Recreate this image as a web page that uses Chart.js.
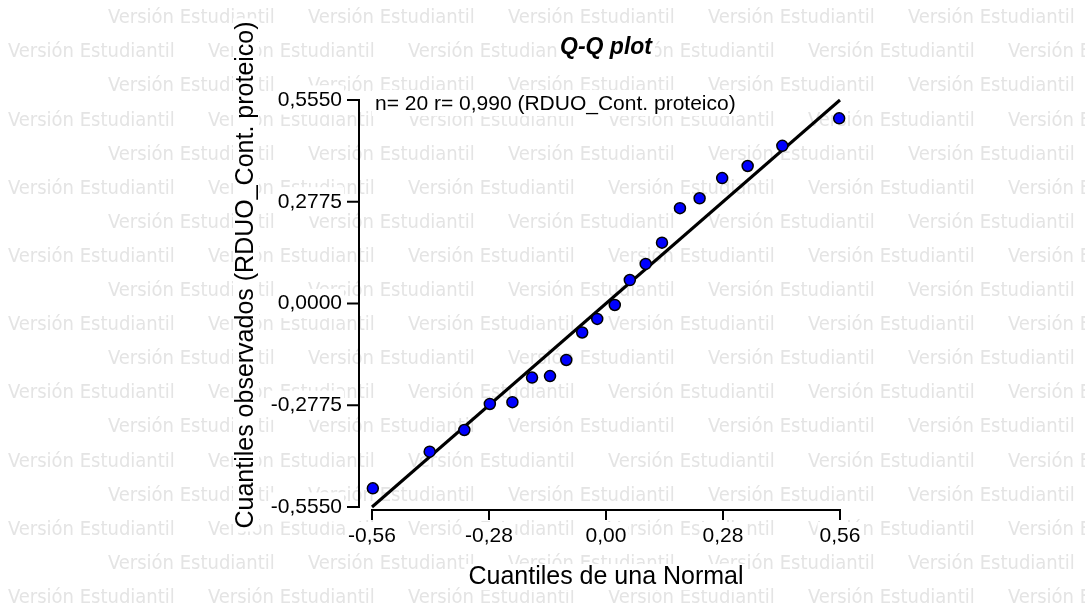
<!DOCTYPE html>
<html>
<head>
<meta charset="utf-8">
<script src="https://cdn.jsdelivr.net/npm/chart.js@4.4.1/dist/chart.umd.min.js"></script>
<style>
html, body { margin: 0; padding: 0; background: #fff; }
canvas { display: block; }
</style>
</head>
<body>
<canvas id="qq" width="1085" height="608"></canvas>
<script>
// datos
var cuantilesNormal = [-0.558, -0.422, -0.339, -0.278, -0.224, -0.177, -0.134, -0.095, -0.057, -0.021,
                        0.021,  0.057,  0.095,  0.134,  0.177,  0.224,  0.278,  0.339,  0.422,  0.558];
var cuantilesObs = [-0.504, -0.404, -0.345, -0.274, -0.269, -0.202, -0.198, -0.154, -0.079, -0.042,
                    -0.004,  0.064,  0.108,  0.166,  0.260,  0.287,  0.342,  0.375,  0.430,  0.505];
var rectaX = [-0.56, 0.56];
var rectaY = [-0.555, 0.555];
var ticksX = [-0.56, -0.28, 0, 0.28, 0.56];
var ticksY = [-0.555, -0.2775, 0, 0.2775, 0.555];

var titulo = 'Q-Q plot';
var leyenda = 'n= 20 r= 0,990 (RDUO_Cont. proteico)';
var tituloX = 'Cuantiles de una Normal';
var tituloY = 'Cuantiles observados (RDUO_Cont. proteico)';
var marca = 'Versión Estudiantil';

var fuente = '"Liberation Sans", Arial, sans-serif';

function coma(v, d) {
    return v.toFixed(d).replace('.', ',');
}

// texto con fondo blanco
function textoCaja(ctx, txt, x, y, align) {
    var w = ctx.measureText(txt).width;
    var x0 = align == 'center' ? x - w / 2 : x;
    ctx.fillStyle = '#fff';
    ctx.fillRect(x0 - 3, y - 20, w + 6, 26);
    ctx.fillStyle = '#000';
    ctx.textAlign = align;
    ctx.fillText(txt, x, y);
}

var fondo = {
    id: 'fondo',
    beforeDraw(chart) {
        var ctx = chart.ctx;
        ctx.save();
        ctx.fillStyle = '#fff';
        ctx.fillRect(0, 0, chart.width, chart.height);
        ctx.font = '20px "DejaVu Sans Condensed", sans-serif';
        ctx.fillStyle = '#e4e4e4';
        ctx.textBaseline = 'middle';
        for (var k = 0; k < 18; k++) {
            var yy = 18 + k * 34.1;
            var x0 = (k % 2 == 0) ? 108 : 8;
            for (var xx = x0; xx < chart.width; xx += 200) {
                ctx.fillText(marca, xx, yy);
            }
        }
        ctx.restore();
    }
};

var ejes = {
    id: 'ejes',
    beforeDatasetsDraw(chart) {
        var ctx = chart.ctx, a = chart.chartArea;
        var sx = chart.scales.x, sy = chart.scales.y;
        ctx.save();
        ctx.strokeStyle = '#000';
        ctx.lineWidth = 2;
        ctx.lineCap = 'square';
        ctx.beginPath();
        var ex = a.left - 13;
        ctx.moveTo(ex, sy.getPixelForValue(0.555));
        ctx.lineTo(ex, sy.getPixelForValue(-0.555));
        ticksY.forEach(function (v) {
            var p = sy.getPixelForValue(v);
            ctx.moveTo(ex - 11, p);
            ctx.lineTo(ex, p);
        });
        var ey = a.bottom + 3;
        ctx.moveTo(sx.getPixelForValue(-0.56), ey);
        ctx.lineTo(sx.getPixelForValue(0.56), ey);
        ticksX.forEach(function (v) {
            var p = sx.getPixelForValue(v);
            ctx.moveTo(p, ey);
            ctx.lineTo(p, ey + 9);
        });
        ctx.stroke();

        ctx.textBaseline = 'alphabetic';
        var cx = (a.left + a.right) / 2;
        ctx.font = 'italic bold 23px ' + fuente;
        textoCaja(ctx, titulo, cx, 54, 'center');
        ctx.font = '21px ' + fuente;
        textoCaja(ctx, leyenda, a.left + 3, 110, 'left');
        ctx.font = '25px ' + fuente;
        textoCaja(ctx, tituloX, cx, 584, 'center');
        ctx.translate(253, 275);
        ctx.rotate(-Math.PI / 2);
        textoCaja(ctx, tituloY, 0, 0, 'center');
        ctx.restore();
    }
};

var puntos = cuantilesNormal.map(function (v, i) { return { x: v, y: cuantilesObs[i] }; });
var recta = rectaX.map(function (v, i) { return { x: v, y: rectaY[i] }; });

var chart = new Chart(document.getElementById('qq'), {
    type: 'scatter',
    data: {
        datasets: [{
            data: puntos,
            backgroundColor: '#0000ff',
            borderColor: '#000',
            borderWidth: 1.5,
            pointRadius: 5.5,
            clip: false
        }, {
            type: 'line',
            data: recta,
            borderColor: '#000',
            borderWidth: 3,
            pointRadius: 0,
            fill: false,
            clip: false
        }]
    },
    options: {
        responsive: false,
        animation: false,
        devicePixelRatio: 1,
        layout: { padding: { left: 0, top: 100, right: 245, bottom: 0 } },
        plugins: { legend: { display: false }, tooltip: { enabled: false }, title: { display: false } },
        scales: {
            x: {
                type: 'linear',
                min: -0.56, max: 0.56,
                afterFit: function (s) { s.height = 101; },
                afterBuildTicks: function (s) { s.ticks = ticksX.map(function (v) { return { value: v }; }); },
                grid: { display: false, drawTicks: false },
                border: { display: false },
                ticks: {
                    padding: 17,
                    color: '#000',
                    font: { family: fuente, size: 21 },
                    maxRotation: 0,
                    showLabelBackdrop: true,
                    backdropColor: '#fff',
                    backdropPadding: 2,
                    callback: function (v) { return coma(v, 2); }
                }
            },
            y: {
                type: 'linear',
                min: -0.555, max: 0.555,
                afterFit: function (s) { s.width = 372; },
                afterBuildTicks: function (s) { s.ticks = ticksY.map(function (v) { return { value: v }; }); },
                grid: { display: false, drawTicks: false },
                border: { display: false },
                ticks: {
                    padding: 30,
                    color: '#000',
                    font: { family: fuente, size: 21 },
                    showLabelBackdrop: true,
                    backdropColor: '#fff',
                    backdropPadding: 2,
                    callback: function (v) { return coma(v, 4); }
                }
            }
        }
    },
    plugins: [fondo, ejes]
});
</script>
</body>
</html>
